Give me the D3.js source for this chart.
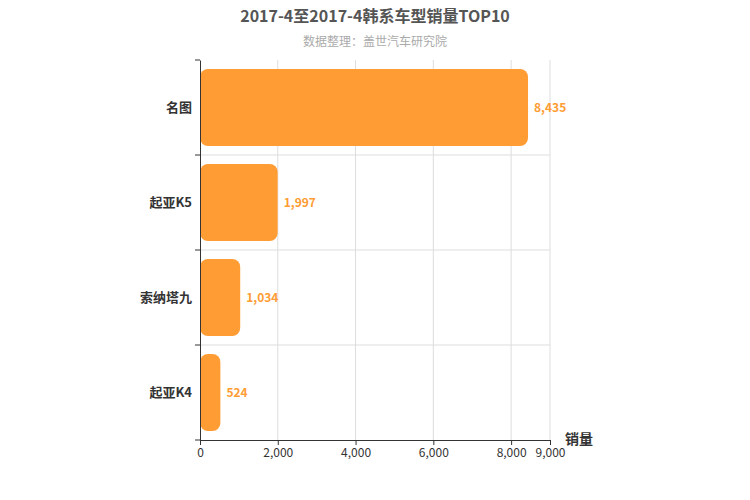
<!DOCTYPE html>
<html><head><meta charset="utf-8">
<script src="https://cdn.jsdelivr.net/npm/d3@7"></script>
<style>body{margin:0;background:#fff}text{font-family:"Noto Sans CJK SC","DejaVu Sans",sans-serif}</style>
</head><body><svg id="c" width="750" height="500"></svg>
<script>
const categories = ["名图","起亚K5","索纳塔九","起亚K4"];
const values = [8435,1997,1034,524];
const xTicks = [0,2000,4000,6000,8000,9000];
const svg = d3.select("#c");
const L=200,R=550,T=60,B=440;
const x = d3.scaleLinear().domain([0,9000]).range([L,R]);
const y = d3.scaleBand().domain(categories).range([T,B]).paddingInner(0.19).paddingOuter(0.095);
const yb = d3.scaleBand().domain(categories).range([T,B]);
// grid
svg.selectAll(".gv").data(xTicks.slice(1)).join("line").attr("x1",d=>x(d)).attr("x2",d=>x(d)).attr("y1",T).attr("y2",B).attr("stroke","#ddd");
svg.selectAll(".gh").data(categories.slice(1)).join("line").attr("x1",L).attr("x2",R).attr("y1",d=>yb(d)).attr("y2",d=>yb(d)).attr("stroke","#ddd");
// bars
svg.selectAll(".bar").data(values).join("rect").attr("x",x(0)).attr("y",(d,i)=>y(categories[i])).attr("width",d=>x(d)-x(0)).attr("height",y.bandwidth()).attr("rx",8).attr("fill","#ff9c33");
svg.selectAll(".lbl").data(values).join("text").attr("x",d=>x(d)+6).attr("y",(d,i)=>y(categories[i])+y.bandwidth()/2+4).attr("fill","#ff9c33").attr("font-size",12).attr("font-weight","bold").text(d=>d3.format(",")(d));
// axes
const xa = svg.append("g").attr("transform",`translate(0,${B})`).call(d3.axisBottom(x).tickValues(xTicks).tickFormat(d3.format(",")).tickSize(5));
xa.selectAll("text").attr("font-size",12).attr("fill","#333");
xa.selectAll("line,path").attr("stroke","#333");
const ya = svg.append("g").attr("transform",`translate(${L},0)`).call(d3.axisLeft(yb).tickSize(0).tickPadding(8));
ya.selectAll("text").attr("font-size",13).attr("font-weight","bold").attr("fill","#333");
ya.select("path").attr("stroke","#333");
svg.selectAll(".yt").data([T,...categories.slice(1).map(c=>yb(c)),B]).join("line").attr("x1",L-5).attr("x2",L).attr("y1",d=>d).attr("y2",d=>d).attr("stroke","#333");
svg.append("text").attr("x",565).attr("y",444).attr("font-size",14).attr("font-weight","bold").attr("fill","#333").text("销量");
svg.append("text").attr("x",375).attr("y",22).attr("text-anchor","middle").attr("font-size",16).attr("font-weight","bold").attr("fill","#555").text("2017-4至2017-4韩系车型销量TOP10");
svg.append("text").attr("x",375).attr("y",46).attr("text-anchor","middle").attr("font-size",12).attr("fill","#aaa").text("数据整理：盖世汽车研究院");
</script></body></html>
